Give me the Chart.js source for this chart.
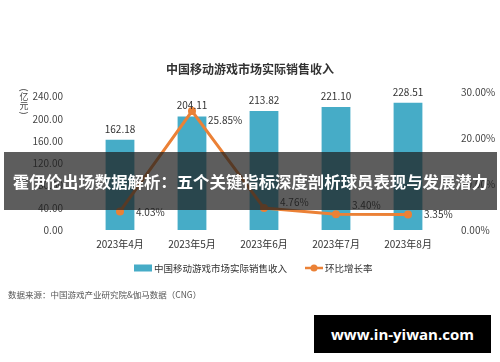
<!DOCTYPE html>
<html>
<head>
<meta charset="utf-8">
<script src="https://cdn.jsdelivr.net/npm/chart.js@4.4.1/dist/chart.umd.min.js"></script>
<style>
    html, body { margin: 0; padding: 0; background: #fff; }
    #wrap { position: relative; width: 500px; height: 362px; overflow: hidden; }
    #banner {
        position: absolute; left: 4px; top: 152px; width: 493px; height: 58px;
        background: rgba(30, 30, 30, 0.72); color: #fff;
        font: bold 16.4px "Noto Sans CJK SC", sans-serif;
        display: flex; align-items: center; justify-content: center; white-space: nowrap;
    }
    #site {
        position: absolute; left: 314px; top: 315px; width: 177px; height: 38px;
        background: #000; color: #fff;
        font: bold 15px "Open Sans", sans-serif;
        display: flex; align-items: center; justify-content: center;
    }
</style>
</head>
<body>
<div id="wrap">
    <canvas id="chart" width="500" height="362"></canvas>
    <div id="banner">霍伊伦出场数据解析：五个关键指标深度剖析球员表现与发展潜力</div>
    <div id="site">www.in-yiwan.com</div>
</div>
<script>
// 中国移动游戏市场实际销售收入 2023年4月-8月
const months = ['2023年4月', '2023年5月', '2023年6月', '2023年7月', '2023年8月'];
const revenue = [162.18, 204.11, 213.82, 221.10, 228.51];   // 亿元
const growth = [4.03, 25.85, 4.76, 3.40, 3.35];              // 环比增长率 %
const leftTicks = [0, 40, 80, 120, 160, 200, 240];
const rightTicks = [0, 10, 20, 30];

const barColor = '#46acc7';
const lineColor = '#eb8136';
const cjk = '"Noto Sans CJK SC", sans-serif';

// label offsets for the growth labels (relative to the point)
const growthDy = [1, 9, -6, -9, 0];

const labelsPlugin = {
    id: 'labels',
    afterDatasetsDraw(chart) {
        const ctx = chart.ctx;
        ctx.save();
        ctx.font = '10px ' + cjk;
        ctx.fillStyle = '#333';
        ctx.textBaseline = 'middle';

        // bar values
        ctx.textAlign = 'center';
        chart.getDatasetMeta(0).data.forEach((bar, i) => {
            ctx.fillText(revenue[i].toFixed(2), bar.x, bar.y - 11);
        });

        // growth values
        ctx.textAlign = 'left';
        chart.getDatasetMeta(1).data.forEach((pt, i) => {
            ctx.fillText(growth[i].toFixed(2) + '%', pt.x + 16, pt.y + growthDy[i]);
        });

        // unit (亿元), vertical
        ctx.font = '9px ' + cjk;
        ctx.fillStyle = '#444';
        ctx.textAlign = 'center';
        ctx.fillText('亿', 24, 97);
        ctx.fillText('元', 24, 106);
        ctx.save();
        ctx.translate(24, 90);
        ctx.rotate(Math.PI / 2);
        ctx.fillText('(', 0, 0);
        ctx.restore();
        ctx.save();
        ctx.translate(24, 113);
        ctx.rotate(Math.PI / 2);
        ctx.fillText(')', 0, 0);
        ctx.restore();

        // legend
        const ly = 268;
        ctx.fillStyle = barColor;
        ctx.fillRect(134, ly - 3.5, 18, 7);
        ctx.fillStyle = '#333';
        ctx.font = '9.5px ' + cjk;
        ctx.textAlign = 'left';
        ctx.fillText(chart.data.datasets[0].label, 154, ly);
        ctx.strokeStyle = lineColor;
        ctx.lineWidth = 2.5;
        ctx.beginPath();
        ctx.moveTo(305, ly);
        ctx.lineTo(323, ly);
        ctx.stroke();
        ctx.fillStyle = lineColor;
        ctx.beginPath();
        ctx.arc(314, ly, 3.5, 0, Math.PI * 2);
        ctx.fill();
        ctx.fillStyle = '#333';
        ctx.fillText(chart.data.datasets[1].label, 325, ly);

        // source
        ctx.font = '8.5px ' + cjk;
        ctx.fillStyle = '#555';
        ctx.fillText('数据来源：中国游戏产业研究院&伽马数据（CNG）', 8, 295);
        ctx.restore();
    }
};

new Chart(document.getElementById('chart'), {
    data: {
        labels: months,
        datasets: [
            {
                type: 'bar',
                label: '中国移动游戏市场实际销售收入',
                data: revenue,
                backgroundColor: barColor,
                yAxisID: 'y',
                barPercentage: 0.4,
                categoryPercentage: 1,
                order: 1
            },
            {
                type: 'line',
                label: '环比增长率',
                data: growth,
                borderColor: lineColor,
                backgroundColor: lineColor,
                borderWidth: 3,
                pointRadius: 4,
                pointBackgroundColor: lineColor,
                pointBorderWidth: 0,
                tension: 0,
                yAxisID: 'y1',
                order: 0
            }
        ]
    },
    options: {
        responsive: false,
        animation: false,
        devicePixelRatio: 1,
        layout: { padding: { top: 0, bottom: 102, left: 0, right: 0 } },
        plugins: {
            legend: { display: false },
            tooltip: { enabled: false },
            title: {
                display: true,
                text: '中国移动游戏市场实际销售收入',
                color: '#333',
                font: { family: cjk, size: 12, weight: 'bold' },
                padding: { top: 62, bottom: 15.6 }
            }
        },
        scales: {
            x: {
                grid: { display: false, drawTicks: false },
                border: { display: false },
                ticks: { color: '#333', font: { family: cjk, size: 10 }, padding: 8 },
                afterFit: s => { s.height = 30; }
            },
            y: {
                position: 'left',
                min: 0,
                max: 248,
                grid: { display: false },
                border: { display: false },
                afterBuildTicks: s => { s.ticks = leftTicks.map(v => ({ value: v })); },
                ticks: { color: '#444', font: { family: cjk, size: 10 }, padding: 13, callback: v => v.toFixed(2) },
                afterFit: s => { s.width = 84; }
            },
            y1: {
                position: 'right',
                min: 0,
                max: 30,
                grid: { display: false },
                border: { display: false },
                afterBuildTicks: s => { s.ticks = rightTicks.map(v => ({ value: v })); },
                ticks: { color: '#444', font: { family: cjk, size: 10 }, padding: 9, callback: v => v.toFixed(2) + '%' },
                afterFit: s => { s.width = 56; }
            }
        }
    },
    plugins: [labelsPlugin]
});
</script>
</body>
</html>
